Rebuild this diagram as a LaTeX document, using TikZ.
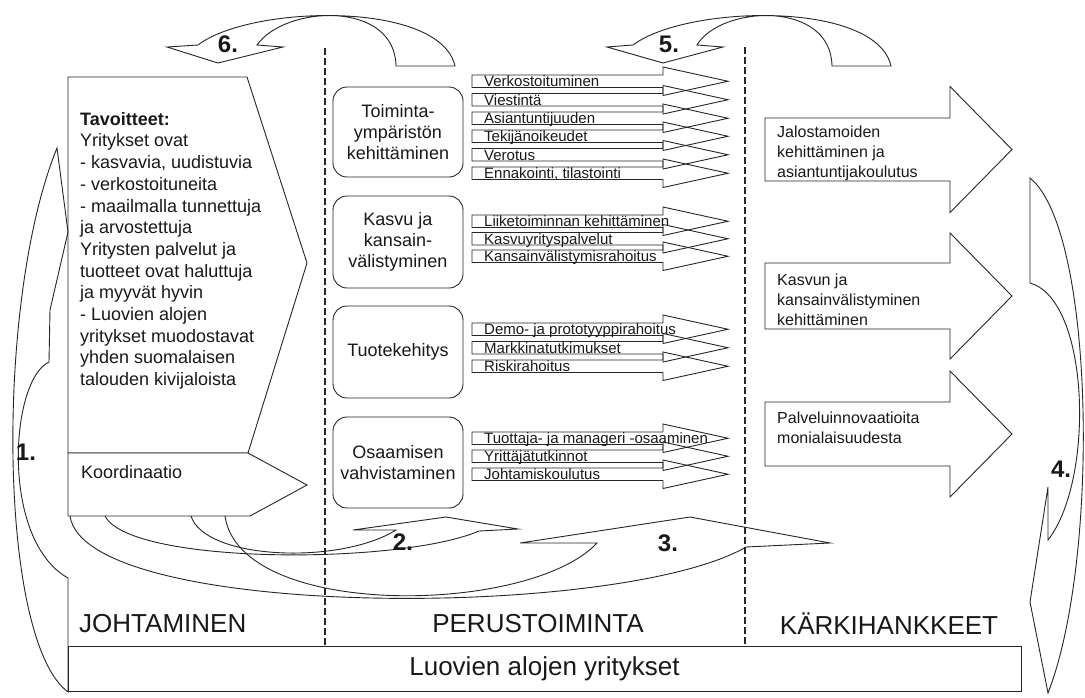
\documentclass[tikz,border=0pt]{standalone}
\usepackage{fontspec}
\setmainfont{Liberation Sans}
\newcommand\sarw[3]{%
  \draw[ln] (472,#2) -- (663,#2) -- (663,{#2-8}) -- (728,{#2+6.25}) -- (663,{#2+20.5}) -- (663,{#2+12.5}) -- (472,{#2+12.5}) -- cycle;
  \node[stxt] (#1) at (484,{#2+11.5}) {#3};}
\newcommand\barw[2]{%
  \draw[wfill] (765,#1) -- (950,#1) -- (950,{(#1+#2)/2-63}) -- (1012,{(#1+#2)/2}) -- (950,{(#1+#2)/2+63}) -- (950,#2) -- (765,#2) -- cycle;}
\begin{document}
\begin{tikzpicture}[x=1pt,y=-1pt]
\tikzset{
  ln/.style={draw=black!85, line width=0.9pt, line join=miter},
  wfill/.style={ln, fill=white},
  dsh/.style={draw=black!85, line width=1.2pt, dash pattern=on 7pt off 3pt},
  rbox/.style={ln, fill=white, rounded corners=14pt, minimum width=130pt, inner sep=0pt, align=center, font=\fontsize{18}{21}\selectfont, text=black!90},
  stxt/.style={font=\fontsize{15}{15}\selectfont, anchor=base west, inner sep=0pt, text=black!90},
  btxt/.style={font=\fontsize{16}{20}\selectfont, align=left, anchor=west, inner sep=0pt, text=black!90},
  lbl/.style={font=\fontsize{26}{26}\selectfont, inner sep=0pt, text=black!90},
  num/.style={font=\bfseries\fontsize{24}{24}\selectfont, inner sep=0pt, text=black!90},
}
\useasboundingbox (0,0) rectangle (1085,697);
\fill[white] (0,0) rectangle (1085,697);

% dashed separators
\coordinate (d1t) at (325,48); \coordinate (d1b) at (325,646);
\coordinate (d2t) at (745,47); \coordinate (d2b) at (745,646);
\draw[dsh] (d1t) -- (d1b);
\draw[dsh] (d2t) -- (d2b);

% arrow 6
\draw[ln] (198,45) .. controls (250,5) and (440,0) .. (455,66) -- (396,66)
  .. controls (395,0) and (285,5) .. (257,45) -- (283,47) -- (218,63) -- (167,47) -- cycle;
\node[num] (n6) at (228,44) {6.};
% arrow 5
\draw[ln] (633,45) .. controls (686,5) and (876,0) .. (891,66) -- (832,66)
  .. controls (831,0) and (721,5) .. (697,45) -- (723,47) -- (663,63) -- (607,47) -- cycle;
\node[num] (n5) at (669,44) {5.};

% left goal shape
\draw[wfill] (68,77) -- (247,77) -- (307,263) -- (248,453) -- (68,453) -- cycle;
\draw[wfill] (68,453) -- (248,453) -- (307,485) -- (250,516) -- (68,516) -- cycle;
\node[font=\fontsize{18}{21.7}\selectfont, align=left, anchor=north west, inner sep=0pt, text=black!90] (goals) at (80,112)
 {\textbf{Tavoitteet:}\\Yritykset ovat\\- kasvavia, uudistuvia\\- verkostoituneita\\- maailmalla tunnettuja\\ja arvostettuja\\Yritysten palvelut ja\\tuotteet ovat haluttuja\\ja myyvät hyvin\\- Luovien alojen\\yritykset muodostavat\\yhden suomalaisen\\talouden kivijaloista};
\node[font=\fontsize{18}{18}\selectfont, anchor=west, inner sep=0pt, text=black!90] (koord) at (81,472) {Koordinaatio};

% rounded boxes
\node[rbox, minimum height=90pt] (b1) at (398,132) {Toiminta-\\ympäristön\\kehittäminen};
\node[rbox, minimum height=92pt] (b2) at (398,242) {Kasvu ja\\kansain-\\välistyminen};
\node[rbox, minimum height=92pt] (b3) at (398,352) {Tuotekehitys};
\node[rbox, minimum height=91pt] (b4) at (398,462.5) {Osaamisen\\vahvistaminen};

% small arrows
\sarw{s11}{75}{Verkostoituminen}
\sarw{s12}{93.5}{Viestintä}
\sarw{s13}{112}{Asiantuntijuuden}
\sarw{s14}{130}{Tekijänoikeudet}
\sarw{s15}{148.5}{Verotus}
\sarw{s16}{167}{Ennakointi, tilastointi}
\sarw{s21}{215}{Liiketoiminnan kehittäminen}
\sarw{s22}{232.5}{Kasvuyrityspalvelut}
\sarw{s23}{250}{Kansainvälistymisrahoitus}
\sarw{s31}{323}{Demo- ja prototyyppirahoitus}
\sarw{s32}{341.5}{Markkinatutkimukset}
\sarw{s33}{360}{Riskirahoitus}
\sarw{s41}{432}{Tuottaja- ja manageri -osaaminen}
\sarw{s42}{450}{Yrittäjätutkinnot}
\sarw{s43}{468}{Johtamiskoulutus}

% big right arrows
\barw{118}{181}
\node[btxt] (k1) at (777,153) {Jalostamoiden\\kehittäminen ja\\asiantuntijakoulutus};
\barw{263}{329}
\node[btxt] (k2) at (777,300) {Kasvun ja\\kansainvälistyminen\\kehittäminen};
\barw{402}{466}
\node[btxt] (k3) at (777,427.5) {Palveluinnovaatioita\\monialaisuudesta};

% arrow 2
\draw[ln] (105,516) .. controls (130,565) and (400,565) .. (479,531) -- (518,529) -- (446,517) -- (353,530) -- (396,530)
  .. controls (340,565) and (205,560) .. (191,516);
\node[num] (n2) at (403,542) {2.};
% arrow 3
\draw[ln] (70,516) .. controls (85,620) and (620,620) .. (746,547) -- (830,543) -- (690,517) -- (520,543) -- (597,543)
  .. controls (530,615) and (240,620) .. (225,516);
\node[num] (n3) at (668,543) {3.};

% arrow 4 (horn shape, tip at bottom)
\draw[ln] (1030,178) .. controls (1095,230) and (1100,560) .. (1048,693) -- (1030,602) -- (1048,487) -- (1048,540)
  .. controls (1095,480) and (1090,300) .. (1030,283) -- cycle;
\node[num] (n4) at (1061,469) {4.};
% arrow 1 (horn shape, tip at top)
\draw[ln] (68,692) .. controls (-2,640) and (-5,300) .. (57,148) -- (68,232) -- (50,310) -- (49,362)
  .. controls (10,380) and (0,540) .. (68,578) -- cycle;
\node[num] (n1) at (26,452) {1.};

% labels
\node[lbl, anchor=west] (jo) at (79,624) {JOHTAMINEN};
\node[lbl] (pe) at (538,624) {PERUSTOIMINTA};
\node[lbl] (ka) at (889,624) {KÄRKIHANKKEET};
\node[ln, fill=white, minimum width=953pt, minimum height=45pt, inner sep=0pt, font=\fontsize{26}{26}\selectfont, text=black!90] (base) at (544.5,668.5) {Luovien alojen yritykset};
\end{tikzpicture}
\end{document}
